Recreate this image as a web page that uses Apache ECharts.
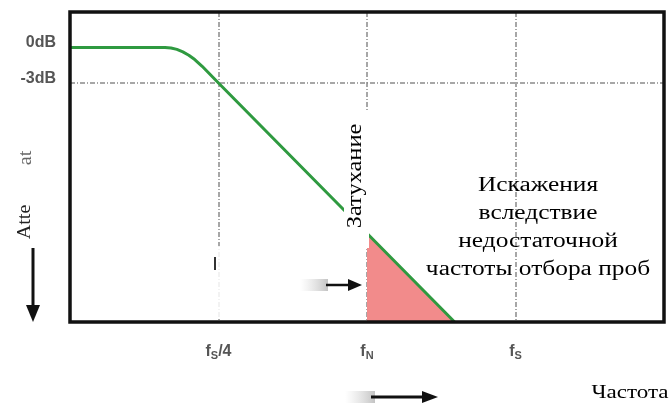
<!DOCTYPE html>
<html>
<head>
<meta charset="utf-8">
<script src="https://cdn.jsdelivr.net/npm/echarts@6/dist/echarts.min.js"></script>
<style>
html,body{margin:0;padding:0;background:#fff;}
#c{width:670px;height:408px;}
</style>
</head>
<body>
<div id="c"></div>
<script>
// ---- data ----
var responseCurve = [[0,0],[0.64,0],[0.68,-0.04],[0.72,-0.16],[0.76,-0.37],[0.80,-0.65],[0.84,-1.02],[0.89,-1.59],[1,-3.0],[2.59,-23.2]];
var aliasArea = [[2,-15.7],[2.59,-23.2]];
var xTickValues = [1,2,3];
var xTickLabels = ['f{s|S}/4','f{s|N}','f{s|S}'];
var yTickValues = [0,-3];
var yTickLabels = ['0dB','-3dB'];
var cutoffLevel = -3;
var xRange = [0,4];
var yRange = [-23.2,3];

var chart = echarts.init(document.getElementById('c'), null, {renderer:'canvas'});
var serif = '"Liberation Serif","Times New Roman",serif';
var sans = '"Liberation Sans",Arial,sans-serif';
var fade = function(){return new echarts.graphic.LinearGradient(0,0,1,0,[{offset:0,color:'rgba(210,210,210,0)'},{offset:1,color:'rgba(185,185,185,0.85)'}]);};

var option = {
  animation:false,
  backgroundColor:'#fff',
  grid:{left:70,right:6,top:12,bottom:86,show:true,borderColor:'#111',borderWidth:3.5,backgroundColor:'transparent',z:10},
  xAxis:{
    type:'value',min:xRange[0],max:xRange[1],interval:1,
    axisLine:{show:false},axisTick:{show:false},
    splitLine:{show:true,lineStyle:{color:'#8a8a8a',width:1.5,type:[5,2,1,2]}},
    axisLabel:{
      customValues:xTickValues,margin:20,color:'#555',fontFamily:sans,fontWeight:'bold',fontSize:16,
      formatter:function(v){var i=xTickValues.indexOf(v);return i>=0?xTickLabels[i]:'';},
      rich:{s:{fontSize:11,color:'#555',fontFamily:sans,fontWeight:'bold',verticalAlign:'bottom',padding:[8,0,0,0]}}
    }
  },
  yAxis:{
    type:'value',min:yRange[0],max:yRange[1],
    axisLine:{show:false},axisTick:{show:false},splitLine:{show:false},
    axisLabel:{
      customValues:yTickValues,margin:14,color:'#555',fontFamily:sans,fontWeight:'bold',fontSize:16,
      verticalAlign:'bottom',lineHeight:9,
      formatter:function(v){var i=yTickValues.indexOf(v);return i>=0?yTickLabels[i]:'';}
    }
  },
  series:[
    {
      type:'line',data:aliasArea,symbol:'none',z:2,
      lineStyle:{width:0},
      areaStyle:{color:'#f28b8b',opacity:1,origin:'start'}
    },
    {
      type:'line',data:responseCurve,symbol:'none',z:5,
      lineStyle:{color:'#2f9a40',width:3},
      markLine:{
        silent:true,symbol:'none',label:{show:false},
        lineStyle:{color:'#8a8a8a',width:1.5,type:[5,2,1,2]},
        data:[{yAxis:cutoffLevel}]
      }
    }
  ],
  graphic:[
    {type:'rect',shape:{x:200,y:246,width:160,height:72},style:{fill:'rgba(255,255,255,0.85)'},z:20},
    {type:'line',shape:{x1:215,y1:257,x2:215,y2:270},style:{stroke:'#333',lineWidth:2},z:21},
    {type:'rect',shape:{x:344,y:112,width:25,height:136},style:{fill:'#fff'},z:30},
    {type:'text',x:356,y:176,rotation:Math.PI/2,scaleX:1.22,z:31,
      style:{text:'Затухание',fontFamily:serif,fontSize:20,fill:'#000',textAlign:'center',textVerticalAlign:'middle'}},
    {type:'text',x:538,y:172,scaleX:1.27,z:31,
      style:{text:'Искажения\nвследствие\nнедостаточной\nчастоты отбора проб',fontFamily:serif,fontSize:20,lineHeight:28,fill:'#000',textAlign:'center'}},
    {type:'rect',shape:{x:300,y:279,width:28,height:12},style:{fill:fade()},z:21},
    {type:'line',shape:{x1:326,y1:285,x2:352,y2:285},style:{stroke:'#111',lineWidth:2.5},z:22},
    {type:'polygon',shape:{points:[[362,285],[348,279],[348,291]]},style:{fill:'#111'},z:22},
    {type:'text',x:25,y:222,rotation:Math.PI/2,scaleX:1.12,z:31,
      style:{text:'Atte',fontFamily:serif,fontSize:18,fill:'#222',textAlign:'center',textVerticalAlign:'middle'}},
    {type:'text',x:26,y:158,rotation:Math.PI/2,scaleX:1.12,z:31,
      style:{text:'at',fontFamily:serif,fontSize:18,fill:'#666',textAlign:'center',textVerticalAlign:'middle'}},
    {type:'line',shape:{x1:33,y1:248,x2:33,y2:310},style:{stroke:'#111',lineWidth:3},z:22},
    {type:'polygon',shape:{points:[[33,322],[26,305],[40,305]]},style:{fill:'#111'},z:22},
    {type:'rect',shape:{x:345,y:391,width:30,height:12},style:{fill:fade()},z:21},
    {type:'line',shape:{x1:371,y1:397,x2:425,y2:397},style:{stroke:'#111',lineWidth:3},z:22},
    {type:'polygon',shape:{points:[[438,397],[422,391],[422,403]]},style:{fill:'#111'},z:22},
    {type:'text',x:630,y:393,scaleX:1.28,z:31,
      style:{text:'Частота',fontFamily:serif,fontSize:18,fill:'#000',textAlign:'center',textVerticalAlign:'middle'}}
  ]
};
chart.setOption(option);
</script>
</body>
</html>
